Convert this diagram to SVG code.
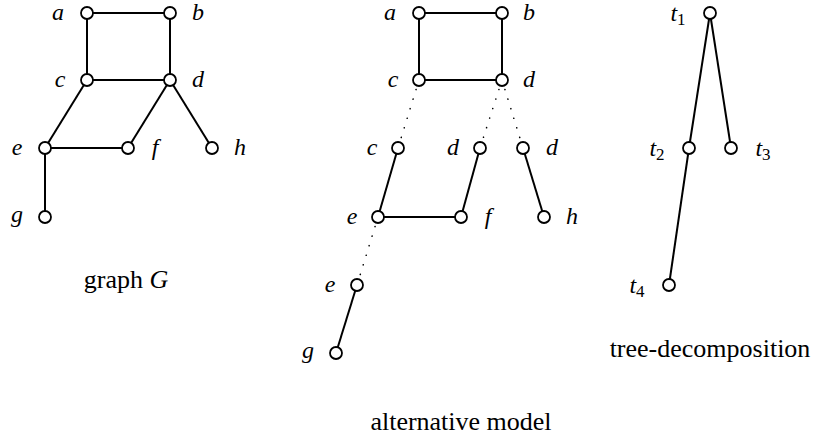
<svg xmlns="http://www.w3.org/2000/svg" width="813" height="437" viewBox="0 0 813 437">
<style>
.n{fill:#fff;stroke:#000;stroke-width:1.8}
.e{stroke:#000;stroke-width:2;fill:none}
.d{stroke:#000;stroke-width:1.6;fill:none;stroke-dasharray:0.01 10;stroke-linecap:round}
.l{font-family:'Liberation Serif','DejaVu Serif','Times New Roman',serif;font-style:italic;font-size:24px;text-anchor:middle}
.s{font-family:'Liberation Serif','DejaVu Serif','Times New Roman',serif;font-size:17px;font-style:normal}
.c{font-family:'Liberation Serif','DejaVu Serif','Times New Roman',serif;font-size:26px;text-anchor:middle}
</style>
<rect width="813" height="437" fill="#fff"/>
<g id="connectors">
<line class="e" x1="87" y1="13" x2="170" y2="13"/>
<line class="e" x1="87" y1="13" x2="87" y2="80"/>
<line class="e" x1="170" y1="13" x2="170" y2="80"/>
<line class="e" x1="87" y1="80" x2="170" y2="80"/>
<line class="e" x1="87" y1="80" x2="45" y2="148"/>
<line class="e" x1="170" y1="80" x2="128" y2="148"/>
<line class="e" x1="170" y1="80" x2="212" y2="148"/>
<line class="e" x1="45" y1="148" x2="128" y2="148"/>
<line class="e" x1="45" y1="148" x2="45" y2="217"/>
<line class="e" x1="419" y1="13" x2="502" y2="13"/>
<line class="e" x1="419" y1="13" x2="419" y2="80"/>
<line class="e" x1="502" y1="13" x2="502" y2="80"/>
<line class="e" x1="419" y1="80" x2="502" y2="80"/>
<line class="d" x1="419" y1="80" x2="398" y2="148"/>
<line class="d" x1="502" y1="80" x2="480" y2="148"/>
<line class="d" x1="502" y1="80" x2="523" y2="148"/>
<line class="e" x1="398" y1="148" x2="378" y2="217"/>
<line class="e" x1="480" y1="148" x2="461" y2="217"/>
<line class="e" x1="523" y1="148" x2="544" y2="217"/>
<line class="e" x1="378" y1="217" x2="461" y2="217"/>
<line class="d" x1="378" y1="217" x2="357" y2="285"/>
<line class="e" x1="357" y1="285" x2="336" y2="353"/>
<line class="e" x1="710" y1="13" x2="689" y2="148"/>
<line class="e" x1="710" y1="13" x2="731" y2="148"/>
<line class="e" x1="689" y1="148" x2="669" y2="285"/>
</g>
<g id="G-a"><circle class="n" cx="87" cy="13" r="6"/><text class="l" x="58" y="20">a</text></g>
<g id="G-b"><circle class="n" cx="170" cy="13" r="6"/><text class="l" x="198" y="20">b</text></g>
<g id="G-c"><circle class="n" cx="87" cy="80" r="6"/><text class="l" x="60" y="87">c</text></g>
<g id="G-d"><circle class="n" cx="170" cy="80" r="6"/><text class="l" x="198" y="87">d</text></g>
<g id="G-e"><circle class="n" cx="45" cy="148" r="6"/><text class="l" x="17" y="155">e</text></g>
<g id="G-f"><circle class="n" cx="128" cy="148" r="6"/><text class="l" x="155" y="155">f</text></g>
<g id="G-h"><circle class="n" cx="212" cy="148" r="6"/><text class="l" x="240" y="155">h</text></g>
<g id="G-g"><circle class="n" cx="45" cy="217" r="6"/><text class="l" x="17" y="222">g</text></g>
<g id="A-a"><circle class="n" cx="419" cy="13" r="6"/><text class="l" x="390" y="20">a</text></g>
<g id="A-b"><circle class="n" cx="502" cy="13" r="6"/><text class="l" x="529" y="20">b</text></g>
<g id="A-c"><circle class="n" cx="419" cy="80" r="6"/><text class="l" x="393" y="87">c</text></g>
<g id="A-d"><circle class="n" cx="502" cy="80" r="6"/><text class="l" x="529" y="87">d</text></g>
<g id="A-c2"><circle class="n" cx="398" cy="148" r="6"/><text class="l" x="372" y="155">c</text></g>
<g id="A-d2"><circle class="n" cx="480" cy="148" r="6"/><text class="l" x="453" y="155">d</text></g>
<g id="A-d3"><circle class="n" cx="523" cy="148" r="6"/><text class="l" x="552" y="155">d</text></g>
<g id="A-e"><circle class="n" cx="378" cy="217" r="6"/><text class="l" x="352" y="224">e</text></g>
<g id="A-f"><circle class="n" cx="461" cy="217" r="6"/><text class="l" x="488" y="224">f</text></g>
<g id="A-h"><circle class="n" cx="544" cy="217" r="6"/><text class="l" x="572" y="224">h</text></g>
<g id="A-e2"><circle class="n" cx="357" cy="285" r="6"/><text class="l" x="330" y="292">e</text></g>
<g id="A-g"><circle class="n" cx="336" cy="353" r="6"/><text class="l" x="308" y="358">g</text></g>
<g id="T-t1"><circle class="n" cx="710" cy="13" r="6"/><text class="l" x="678" y="21">t<tspan class="s" dy="4">1</tspan></text></g>
<g id="T-t2"><circle class="n" cx="689" cy="148" r="6"/><text class="l" x="657" y="156">t<tspan class="s" dy="4">2</tspan></text></g>
<g id="T-t3"><circle class="n" cx="731" cy="148" r="6"/><text class="l" x="763" y="156">t<tspan class="s" dy="4">3</tspan></text></g>
<g id="T-t4"><circle class="n" cx="669" cy="285" r="6"/><text class="l" x="637" y="293">t<tspan class="s" dy="4">4</tspan></text></g>
<g id="captions">
<text class="c" x="126" y="288">graph <tspan font-style="italic">G</tspan></text>
<text class="c" x="710" y="357">tree-decomposition</text>
<text class="c" x="461" y="430">alternative model</text>
</g>
</svg>
